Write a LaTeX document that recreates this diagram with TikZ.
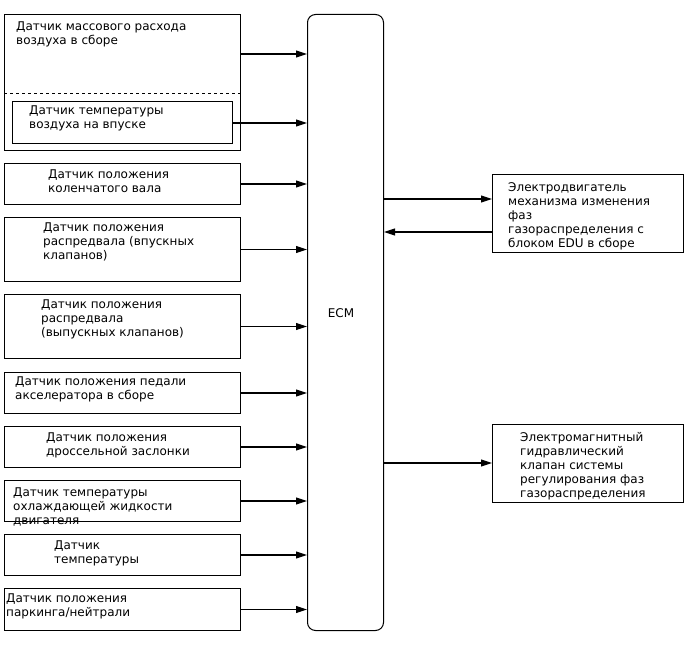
\documentclass[tikz,border=0pt]{standalone}
\usepackage{fontspec}
\setmainfont{DejaVu Sans}
\usetikzlibrary{arrows.meta,calc}
\begin{document}
\begin{tikzpicture}[x=1pt,y=-1pt,
  box/.style={draw,line width=1pt,inner sep=0pt,anchor=north west},
  txt/.style={anchor=base west,inner sep=0pt,align=left,font=\fontsize{12}{14}\selectfont},
  arr/.style={line width=1.1pt,-{Triangle[length=11pt,width=7pt]}}]
\useasboundingbox (0,0) rectangle (688,658);
% ECM
\node[box,rounded corners=8pt,minimum width=76pt,minimum height=616pt] (ecm) at (307,14) {};
\node[font=\fontsize{12}{14}\selectfont] (ecmt) at (341,313) {ECM};
% left boxes
\node[box,minimum width=236pt,minimum height=136pt] (maf) at (4,14) {};
\draw[dashed,line width=1pt] (maf.west |- {0,94}) -- (maf.east |- {0,94});
\node[box,minimum width=220pt,minimum height=42pt] (iat) at (12,101) {};
\node[box,minimum width=236pt,minimum height=41pt] (ckp) at (4,163) {};
\node[box,minimum width=236pt,minimum height=64pt] (cmpi) at (4,217) {};
\node[box,minimum width=236pt,minimum height=64pt] (cmpe) at (4,294) {};
\node[box,minimum width=236pt,minimum height=41pt] (app) at (4,372) {};
\node[box,minimum width=236pt,minimum height=41pt] (tps) at (4,426) {};
\node[box,minimum width=236pt,minimum height=41pt] (ect) at (4,480) {};
\node[box,minimum width=236pt,minimum height=41pt] (tmp) at (4,534) {};
\node[box,minimum width=236pt,minimum height=42pt] (pnp) at (4,588) {};
% right boxes
\node[box,minimum width=191pt,minimum height=78pt] (edu) at (492,174) {};
\node[box,minimum width=191pt,minimum height=78pt] (ocv) at (492,424) {};
% texts (anchored at baseline of last line)
\node[txt] (t1) at (16,45) {Датчик массового расхода\\воздуха в сборе};
\node[txt] (t2) at (29,129) {Датчик температуры\\воздуха на впуске};
\node[txt] (t3) at (48,193) {Датчик положения\\коленчатого вала};
\node[txt] (t4) at (43,259) {Датчик положения\\распредвала (впускных\\клапанов)};
\node[txt] (t5) at (41,336) {Датчик положения\\распредвала\\(выпускных клапанов)};
\node[txt] (t6) at (15,399) {Датчик положения педали\\акселератора в сборе};
\node[txt] (t7) at (46,455) {Датчик положения\\дроссельной заслонки};
\node[txt] (t8) at (13,524) {Датчик температуры\\охлаждающей жидкости\\двигателя};
\node[txt] (t9) at (54,563) {Датчик\\температуры};
\node[txt] (t10) at (6,616) {Датчик положения\\паркинга/нейтрали};
\node[txt] (t11) at (508,247) {Электродвигатель\\механизма изменения\\фаз\\газораспределения с\\блоком EDU в сборе};
\node[txt] (t12) at (520,497) {Электромагнитный\\гидравлический\\клапан системы\\регулирования фаз\\газораспределения};
% arrows
\draw[arr] (maf.east |- {0,54}) -- (ecm.west |- {0,54});
\draw[arr] (iat.east |- {0,123}) -- (ecm.west |- {0,123});
\draw[arr] (ckp.east) -- (ecm.west |- ckp.east);
\draw[arr] (cmpi.east) -- (ecm.west |- cmpi.east);
\draw[arr] (cmpe.east) -- (ecm.west |- cmpe.east);
\draw[arr] (app.east) -- (ecm.west |- app.east);
\draw[arr] (tps.east) -- (ecm.west |- tps.east);
\draw[arr] (ect.east) -- (ecm.west |- ect.east);
\draw[arr] (tmp.east) -- (ecm.west |- tmp.east);
\draw[arr] (pnp.east) -- (ecm.west |- pnp.east);
\draw[arr] (ecm.east |- {0,199}) -- (edu.west |- {0,199});
\draw[arr] (edu.west |- {0,232}) -- (ecm.east |- {0,232});
\draw[arr] (ecm.east |- {0,463}) -- (ocv.west |- {0,463});
\end{tikzpicture}
\end{document}
